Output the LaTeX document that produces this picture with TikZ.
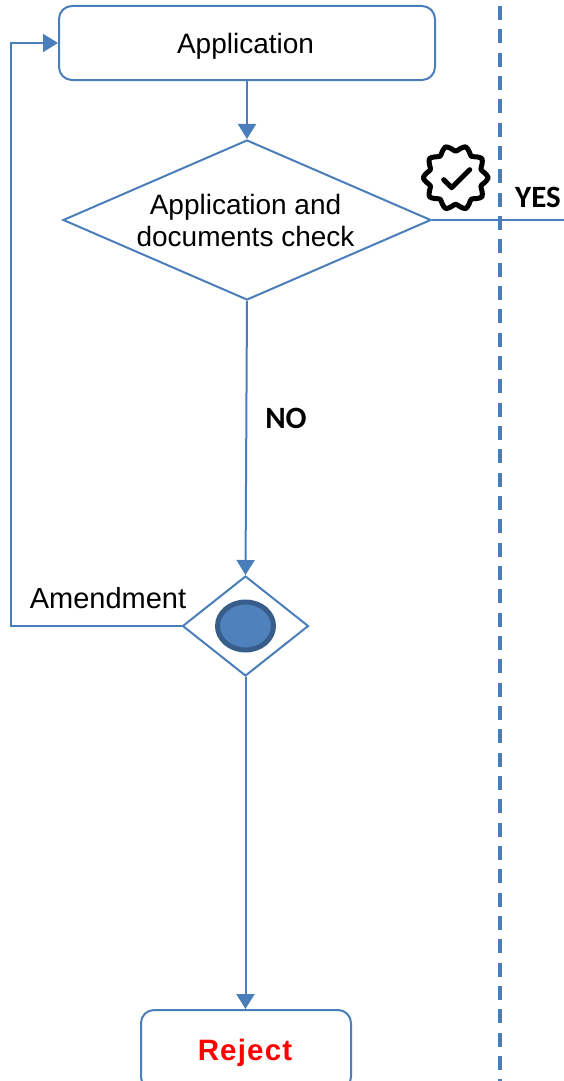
\documentclass[tikz,border=0pt]{standalone}
\usepackage{fontspec}
\setmainfont{Liberation Sans}
\newfontfamily\labelfont{Carlito}
\newfontfamily\rejectfont[LetterSpace=4]{Liberation Sans}
\usetikzlibrary{arrows.meta,positioning,shapes.geometric}
\definecolor{flowblue}{HTML}{4A7EBB}
\definecolor{gatefill}{HTML}{4F81BD}
\definecolor{gateline}{HTML}{385D8A}

\begin{document}
\begin{tikzpicture}[%
    x=1pt,y=-1pt,
    >={Triangle[length=15pt,width=18pt]},
    on grid,
    line width=2pt,
    box/.style={draw=flowblue,rounded corners=13pt,inner sep=0pt,text depth=0pt},
    check/.style={draw=flowblue,diamond,aspect=2.3,inner sep=0pt},
    flow/.style={draw=flowblue,->},
    tag/.style={font=\labelfont\bfseries\fontsize{31}{34}\selectfont}
    ]
    \useasboundingbox (0,0) rectangle (564,1081);
    \clip (0,0) rectangle (564,1081);
    \fontsize{28}{32}\selectfont

    \draw[flowblue,line width=3.5pt,dash pattern=on 14pt off 9.33pt] (500,6) -- (500,1081);

    \node[box,minimum width=376pt,minimum height=74pt] (application) at (247,43) {Application\kern3pt};
    \node[check,align=center,minimum width=368pt,minimum height=160pt,below=177pt of application] (docs)
        {Application and\kern3pt\\documents check\kern3pt};
    \node[check,minimum width=126pt,minimum height=100pt] (gate) at (245.5,626) {};
    \node[draw=gateline,fill=gatefill,ellipse,line width=5pt,inner sep=0pt,minimum width=56pt,minimum height=48pt] (dot) at (gate.center) {};
    \node[box,minimum width=210pt,minimum height=80pt] (reject) at (246,1050)
        {\rejectfont\bfseries\fontsize{29.5}{32}\selectfont\textcolor{red}{Reject}\kern2pt};

    \node[font=\fontsize{29}{32}\selectfont] (amendment) at (108,598) {Amendment};
    \node[tag] (no) at (286,418) {NO};
    \node[tag] (yes) at (538,197) {YES};

    \coordinate (yesend) at (564,220);
    \coordinate (corner) at (11,43);

    \path[flow] (application) -- (docs);
    \path[flow] (docs.south) -- (gate.north);
    \path[flow] (gate.south) -- (gate.south |- reject.north);
    \path[flow] (gate.west) -| (corner) -- (application.west);
    \draw[flowblue] (docs.east) -- (yesend);

    % badge
    \begin{scope}[shift={(455.7,177.7)},line width=5pt,line join=round,line cap=round]
    \draw plot[smooth cycle,domain=0:351,samples=40] (\x:{29.5+3*cos(10*\x)});
    \draw (-12,2) -- (-4,10) -- (14,-8);
    \end{scope}
\end{tikzpicture}
\end{document}
